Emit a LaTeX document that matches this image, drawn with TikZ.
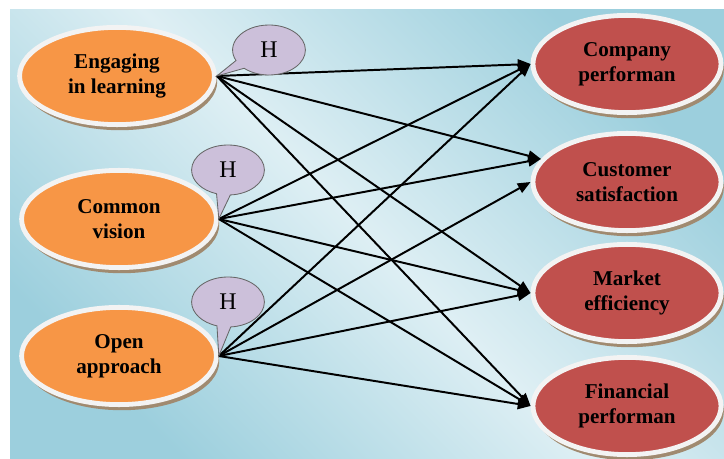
\documentclass[tikz,border=0pt]{standalone}
\usepackage{fontspec}
\setmainfont{Liberation Serif}
\usepackage{tikz}
\usetikzlibrary{shapes.geometric, shapes.callouts, arrows.meta, shadows}
\definecolor{bgdeep}{RGB}{156,207,221}
\definecolor{bglight}{RGB}{222,239,244}
\definecolor{factororange}{RGB}{247,150,70}
\definecolor{outcomered}{RGB}{192,80,77}
\definecolor{bubblelilac}{RGB}{204,192,218}
\definecolor{shadowbrown}{RGB}{160,138,112}
\definecolor{ringwhite}{RGB}{243,243,243}

\begin{document}
\begin{tikzpicture}[x=0.025cm, y=-0.025cm,
    factor/.style={ellipse, fill=factororange, draw=ringwhite, line width=0.12cm,
        minimum width=4.87cm, minimum height=2.43cm, inner sep=0pt, align=center,
        font=\fontsize{15}{17.7}\selectfont\bfseries,
        drop shadow={shadow xshift=0.07cm, shadow yshift=-0.14cm, fill=shadowbrown, opacity=1}},
    outcome/.style={factor, fill=outcomered, minimum width=4.7cm},
    hbubble/.style={ellipse callout, fill=bubblelilac, draw=black!60, line width=0.6pt,
        minimum width=1.82cm, minimum height=1.25cm, inner sep=0pt,
        callout pointer arc=22, font=\fontsize{17}{20}\selectfont},
    link/.style={-{Triangle[length=0.32cm, width=0.26cm]}, line width=1.4pt, black}]

    \useasboundingbox (0,0) rectangle (724,459);

    % Background
    \shade[left color=bgdeep, right color=bgdeep, middle color=bglight, shading angle=-45]
        (10,10) rectangle (724,459);

    % Learning factors
    \node[factor] (eng) at (117,76) {Engaging\\in learning};
    \node[factor] (com) at (119,219) {Common\\vision};
    \node[factor] (opn) at (119,356) {Open\\approach};

    % Performance outcomes
    \node[outcome] (cp) at (627,64) {Company\\performan};
    \node[outcome] (cs) at (627,182) {Customer\\satisfaction};
    \node[outcome] (me) at (627,293) {Market\\efficiency};
    \node[outcome] (fp) at (627,406) {Financial\\performan};

    % Paths
    \foreach \src/\dst in {eng/cp.west, eng/cs.165, eng/me.west, eng/fp.west,
                           com/cp.west, com/cs.165, com/me.west, com/fp.west,
                           opn/cp.west, opn/cs.west, opn/me.west, opn/fp.west}
        \draw[link] (\src.east) -- (\dst);

    % Hypothesis bubbles
    \node[hbubble, callout absolute pointer={(eng.east)}] (h1) at (269,50) {H};
    \node[hbubble, callout absolute pointer={(com.east)}] (h2) at (228,170) {H};
    \node[hbubble, callout absolute pointer={(opn.east)}] (h3) at (228,302) {H};
\end{tikzpicture}
\end{document}
